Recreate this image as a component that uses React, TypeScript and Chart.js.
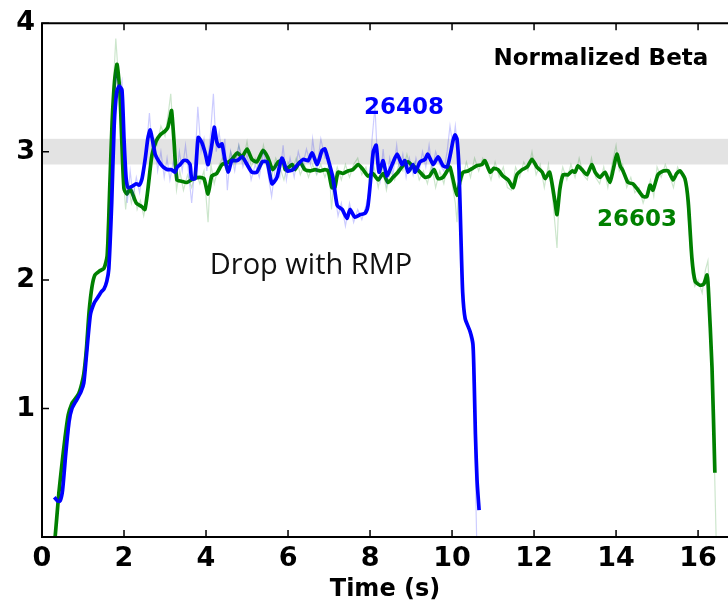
import React, { useEffect, useRef } from "react";
import { Chart, registerables } from "chart.js";

Chart.register(...registerables);

// ---- data: [time (s), normalized beta] ----
const blueSmooth: number[][] = [
  [0.30,0.31],[0.38,0.28],[0.44,0.28],[0.50,0.36],[0.58,0.65],[0.66,0.90],[0.73,1.00],[0.85,1.07],[0.95,1.13],[1.02,1.20],
  [1.08,1.40],[1.18,1.73],[1.27,1.82],[1.35,1.86],[1.45,1.91],[1.51,1.93],[1.58,1.99],[1.63,2.09],[1.70,2.60],[1.76,3.20],
  [1.82,3.46],[1.88,3.51],[1.95,3.48],[2.00,3.10],[2.05,2.80],[2.10,2.72],[2.20,2.73],[2.30,2.75],[2.37,2.74],[2.44,2.79],
  [2.52,2.95],[2.58,3.10],[2.64,3.17],[2.70,3.08],[2.76,2.98],[2.86,2.92],[2.96,2.88],[3.06,2.86],[3.16,2.86],[3.24,2.84],
  [3.30,2.88],[3.37,2.90],[3.45,2.93],[3.53,2.93],[3.61,2.90],[3.65,2.79],[3.73,2.79],[3.81,3.11],[3.90,3.07],[3.98,2.99],
  [4.05,2.90],[4.14,3.05],[4.20,3.19],[4.26,3.08],[4.32,3.04],[4.39,3.06],[4.46,2.94],[4.54,2.84],[4.63,2.93],[4.76,2.93],
  [4.88,2.96],[5.00,2.90],[5.12,2.84],[5.24,2.84],[5.37,2.92],[5.49,2.92],[5.61,2.75],[5.73,2.80],[5.85,2.95],[5.98,2.85],
  [6.12,2.86],[6.24,2.90],[6.37,2.94],[6.49,2.93],[6.59,2.99],[6.71,2.90],[6.83,3.01],[6.90,3.02],[7.02,2.89],[7.10,2.79],
  [7.20,2.58],[7.32,2.55],[7.44,2.48],[7.51,2.55],[7.63,2.49],[7.76,2.51],[7.88,2.52],[7.95,2.58],[8.02,2.80],[8.08,3.00],
  [8.15,3.05],[8.22,2.84],[8.32,2.93],[8.41,2.81],[8.54,2.90],[8.66,2.98],[8.78,2.90],[8.85,2.93],[8.93,2.84],[9.05,2.90],
  [9.10,2.84],[9.22,2.92],[9.34,2.94],[9.41,2.98],[9.54,2.90],[9.66,2.96],[9.78,2.89],[9.88,2.88],[9.96,2.98],[10.02,3.08],
  [10.07,3.13],[10.12,3.10],[10.17,2.86],[10.22,2.30],[10.26,1.90],[10.32,1.70],[10.44,1.60],[10.51,1.50],[10.54,1.21],
  [10.57,0.80],[10.61,0.44],[10.66,0.21],
];

const greenSmooth: number[][] = [
  [0.32,0.00],[0.36,0.15],[0.41,0.34],[0.48,0.55],[0.56,0.77],[0.64,0.95],[0.73,1.04],[0.82,1.08],[0.90,1.12],[0.96,1.18],
  [1.02,1.27],[1.08,1.45],[1.15,1.76],[1.22,1.95],[1.29,2.04],[1.40,2.07],[1.51,2.09],[1.59,2.19],[1.65,2.70],[1.71,3.23],
  [1.77,3.55],[1.83,3.68],[1.90,3.46],[1.95,3.05],[2.00,2.71],[2.07,2.67],[2.15,2.71],[2.22,2.66],[2.30,2.60],[2.44,2.57],
  [2.51,2.55],[2.58,2.70],[2.68,2.97],[2.78,3.08],[2.88,3.13],[3.00,3.16],[3.07,3.19],[3.12,3.26],[3.16,3.32],[3.22,3.08],
  [3.29,2.78],[3.40,2.77],[3.53,2.76],[3.70,2.79],[3.85,2.80],[3.95,2.79],[4.05,2.67],[4.14,2.81],[4.26,2.83],[4.39,2.90],
  [4.50,2.91],[4.63,2.94],[4.76,2.99],[4.88,2.96],[5.00,3.02],[5.12,2.94],[5.24,2.92],[5.39,3.01],[5.50,2.96],[5.63,2.86],
  [5.76,2.92],[5.88,2.93],[5.93,2.86],[6.02,2.88],[6.10,2.90],[6.17,2.86],[6.29,2.92],[6.41,2.86],[6.54,2.85],[6.66,2.86],
  [6.78,2.85],[6.90,2.86],[6.98,2.85],[7.07,2.72],[7.14,2.72],[7.22,2.84],[7.34,2.83],[7.46,2.85],[7.58,2.86],[7.71,2.90],
  [7.83,2.86],[7.95,2.81],[8.07,2.83],[8.20,2.78],[8.32,2.83],[8.44,2.76],[8.56,2.80],[8.68,2.84],[8.80,2.89],[8.93,2.92],
  [9.03,2.89],[9.10,2.88],[9.22,2.84],[9.34,2.80],[9.45,2.81],[9.56,2.86],[9.66,2.79],[9.78,2.80],[9.90,2.86],[9.95,2.88],
  [10.02,2.79],[10.12,2.66],[10.20,2.78],[10.27,2.84],[10.39,2.85],[10.50,2.87],[10.60,2.89],[10.73,2.90],[10.80,2.93],
  [10.93,2.84],[11.02,2.87],[11.12,2.86],[11.24,2.81],[11.37,2.78],[11.49,2.72],[11.58,2.82],[11.71,2.86],[11.83,2.88],
  [11.95,2.94],[12.07,2.88],[12.20,2.84],[12.27,2.79],[12.38,2.84],[12.51,2.61],[12.56,2.51],[12.63,2.71],[12.71,2.82],
  [12.83,2.82],[12.93,2.85],[13.00,2.84],[13.07,2.89],[13.17,2.86],[13.29,2.82],[13.41,2.90],[13.49,2.84],[13.61,2.80],
  [13.73,2.84],[13.85,2.76],[13.93,2.86],[14.02,2.98],[14.10,2.89],[14.17,2.85],[14.29,2.76],[14.41,2.75],[14.54,2.70],
  [14.66,2.65],[14.75,2.65],[14.83,2.74],[14.90,2.70],[15.02,2.82],[15.15,2.85],[15.27,2.85],[15.39,2.78],[15.48,2.83],
  [15.56,2.85],[15.68,2.79],[15.76,2.61],[15.85,2.17],[15.93,1.99],[16.05,1.96],[16.14,1.97],[16.22,2.04],[16.25,1.94],
  [16.34,1.32],[16.41,0.50],
];

const blueRaw: number[][] = [
  [0.30,0.30],[0.45,0.27],[0.6,0.7],[0.75,1.02],[0.9,1.1],[1.05,1.3],[1.2,1.78],[1.35,1.88],[1.5,1.92],[1.62,2.1],
  [1.72,2.9],[1.8,3.6],[1.88,3.45],[1.95,3.55],[2.02,2.95],[2.08,2.6],[2.15,2.85],[2.22,2.65],[2.3,2.8],[2.38,2.68],
  [2.46,2.85],[2.55,3.05],[2.62,3.3],[2.68,3.05],[2.75,3.1],[2.82,2.85],[2.9,3.0],[2.98,2.8],[3.05,2.95],[3.12,2.78],
  [3.2,2.92],[3.28,2.8],[3.35,3.0],[3.42,2.85],[3.5,3.05],[3.58,2.82],[3.65,2.6],[3.72,2.85],[3.8,3.35],[3.88,3.0],
  [3.95,3.1],[4.02,2.85],[4.1,3.1],[4.18,3.45],[4.25,3.0],[4.32,3.15],[4.4,2.95],[4.46,3.1],[4.52,2.7],[4.6,3.0],
  [4.7,2.85],[4.8,3.05],[4.9,2.88],[5.0,2.98],[5.1,2.78],[5.2,2.9],[5.3,2.8],[5.4,3.0],[5.5,2.85],[5.6,2.65],
  [5.7,2.9],[5.8,2.8],[5.88,3.05],[5.96,2.78],[6.05,2.95],[6.15,2.8],[6.25,3.0],[6.35,2.88],[6.45,3.02],[6.55,2.9],
  [6.6,3.1],[6.7,2.85],[6.8,3.1],[6.9,2.95],[7.0,2.95],[7.08,2.7],[7.15,2.65],[7.22,2.5],[7.3,2.6],[7.4,2.42],
  [7.5,2.6],[7.6,2.45],[7.7,2.55],[7.8,2.47],[7.9,2.58],[7.98,2.7],[8.05,3.1],[8.12,3.35],[8.18,2.95],[8.25,2.78],
  [8.32,3.02],[8.4,2.75],[8.48,2.95],[8.56,2.82],[8.65,3.05],[8.72,2.85],[8.8,2.98],[8.88,2.8],[8.96,2.95],[9.05,2.82],
  [9.12,2.95],[9.2,2.85],[9.28,3.0],[9.36,2.88],[9.44,3.05],[9.52,2.85],[9.6,3.0],[9.7,2.9],[9.8,2.85],[9.88,3.0],
  [9.95,3.2],[10.02,3.05],[10.08,3.2],[10.14,3.0],[10.18,2.6],[10.23,2.1],[10.3,1.75],[10.4,1.62],[10.5,1.45],
  [10.55,0.9],[10.58,0.3],[10.6,0.0],
];

const greenRaw: number[][] = [
  [0.33,0.0],[0.42,0.35],[0.55,0.78],[0.7,1.05],[0.85,1.1],[1.0,1.25],[1.12,1.7],[1.25,2.02],[1.4,2.08],[1.55,2.12],
  [1.65,2.8],[1.72,3.4],[1.8,3.88],[1.86,3.6],[1.92,3.3],[1.98,2.8],[2.04,2.55],[2.1,2.75],[2.18,2.6],[2.25,2.7],
  [2.32,2.55],[2.4,2.62],[2.48,2.5],[2.56,2.62],[2.64,2.95],[2.72,3.1],[2.8,3.05],[2.9,3.2],[3.0,3.12],[3.08,3.3],
  [3.14,3.45],[3.2,3.15],[3.28,2.7],[3.36,2.85],[3.45,2.7],[3.55,2.82],[3.65,2.72],[3.75,2.85],[3.85,2.75],[3.95,2.85],
  [4.05,2.45],[4.12,2.9],[4.2,2.75],[4.3,2.88],[4.4,2.95],[4.5,2.85],[4.6,3.0],[4.7,2.9],[4.8,3.05],[4.9,2.92],
  [5.0,3.08],[5.1,2.88],[5.2,2.95],[5.3,2.85],[5.4,3.05],[5.5,2.9],[5.6,2.8],[5.7,2.95],[5.8,2.88],[5.9,2.78],
  [6.0,2.92],[6.1,2.85],[6.2,2.95],[6.3,2.82],[6.4,2.9],[6.5,2.8],[6.6,2.9],[6.7,2.82],[6.8,2.9],[6.9,2.8],
  [7.0,2.9],[7.06,2.55],[7.12,2.78],[7.2,2.88],[7.3,2.78],[7.4,2.9],[7.5,2.8],[7.6,2.9],[7.7,2.95],[7.8,2.82],
  [7.9,2.88],[8.0,2.75],[8.1,2.88],[8.2,2.72],[8.3,2.88],[8.4,2.7],[8.5,2.85],[8.6,2.78],[8.7,2.9],[8.8,2.85],
  [8.9,2.98],[9.0,2.85],[9.1,2.92],[9.2,2.78],[9.3,2.85],[9.4,2.75],[9.5,2.9],[9.6,2.72],[9.7,2.85],[9.8,2.75],
  [9.9,2.92],[10.0,2.75],[10.08,2.6],[10.12,2.45],[10.18,2.85],[10.25,2.78],[10.35,2.92],[10.45,2.8],[10.55,2.95],
  [10.65,2.85],[10.75,2.95],[10.85,2.88],[10.95,2.78],[11.05,2.92],[11.15,2.8],[11.25,2.88],[11.35,2.72],[11.45,2.7],
  [11.55,2.88],[11.65,2.8],[11.75,2.92],[11.85,2.85],[11.95,3.0],[12.05,2.82],[12.15,2.9],[12.25,2.72],[12.35,2.9],
  [12.45,2.65],[12.52,2.4],[12.56,2.25],[12.62,2.75],[12.7,2.88],[12.8,2.78],[12.9,2.9],[13.0,2.8],[13.1,2.95],
  [13.2,2.82],[13.3,2.78],[13.4,2.95],[13.5,2.8],[13.6,2.75],[13.7,2.88],[13.8,2.72],[13.9,2.9],[14.0,3.05],
  [14.08,2.85],[14.16,2.9],[14.26,2.72],[14.36,2.8],[14.46,2.68],[14.56,2.72],[14.66,2.6],[14.76,2.7],[14.84,2.78],
  [14.92,2.65],[15.0,2.88],[15.1,2.8],[15.2,2.9],[15.3,2.82],[15.4,2.72],[15.5,2.88],[15.6,2.82],[15.7,2.75],
  [15.78,2.4],[15.85,2.05],[15.92,1.95],[16.0,2.0],[16.1,1.9],[16.18,2.08],[16.24,2.15],[16.28,1.9],[16.36,1.1],[16.44,0.0],
];

const xTicks = [0, 2, 4, 6, 8, 10, 12, 14, 16];
const yTicks = [1, 2, 3, 4];
const bandRange = [2.9, 3.1];
const xLimits = [0, 16.73];
const yLimits = [0, 4];

const toPts = (arr: number[][]) => arr.map(([x, y]) => ({ x, y }));

const overlayPlugin = {
  id: "overlay",
  beforeDatasetsDraw(chart: any) {
    const { ctx, chartArea, scales } = chart;
    const y = scales.y;
    const yTop = y.getPixelForValue(bandRange[1]);
    const yBot = y.getPixelForValue(bandRange[0]);
    ctx.save();
    ctx.fillStyle = "#e3e3e3";
    ctx.fillRect(chartArea.left, yTop, chartArea.right - chartArea.left, yBot - yTop);
    ctx.restore();
  },
  afterDraw(chart: any) {
    const { ctx, chartArea, scales } = chart;
    const x = scales.x;
    const y = scales.y;
    const L = chartArea.left, R = chartArea.right, T = chartArea.top, B = chartArea.bottom;
    ctx.save();
    ctx.strokeStyle = "#000";
    ctx.lineWidth = 2;
    ctx.beginPath();
    ctx.moveTo(L, T); ctx.lineTo(L, B);
    ctx.moveTo(L - 1, T); ctx.lineTo(R, T);
    ctx.moveTo(L - 1, B); ctx.lineTo(R, B);
    ctx.stroke();
    ctx.lineWidth = 1.5;
    ctx.beginPath();
    xTicks.forEach((v) => {
      const px = x.getPixelForValue(v);
      ctx.moveTo(px, B); ctx.lineTo(px, B - 7);
      ctx.moveTo(px, T); ctx.lineTo(px, T + 7);
    });
    yTicks.forEach((v) => {
      const py = y.getPixelForValue(v);
      ctx.moveTo(L, py); ctx.lineTo(L + 7, py);
    });
    ctx.stroke();

    const text = (s: string, tx: number, ty: number, font: string, color: string) => {
      ctx.font = font;
      ctx.fillStyle = color;
      ctx.textAlign = "center";
      ctx.textBaseline = "alphabetic";
      ctx.fillText(s, x.getPixelForValue(tx), y.getPixelForValue(ty));
    };
    text("Normalized Beta", 13.63, 3.675, "bold 23px 'DejaVu Sans'", "#000");
    text("26408", 8.83, 3.296, "bold 23px 'DejaVu Sans'", "#0000ff");
    text("26603", 14.51, 2.42, "bold 23px 'DejaVu Sans'", "#008000");
    text("Drop with RMP", 6.56, 2.05, "29px 'Open Sans'", "#111");
    ctx.restore();
  },
};

export default function App() {
  const ref = useRef<HTMLCanvasElement>(null);
  useEffect(() => {
    if (!ref.current) return;
    const tickFont = { family: "'DejaVu Sans'", size: 27, weight: "bold" as const };
    const chart = new Chart(ref.current, {
      type: "scatter",
      data: {
        datasets: [
          { data: toPts(blueRaw), showLine: true, borderColor: "rgba(0,0,255,0.2)", borderWidth: 1.2, pointRadius: 0, tension: 0 },
          { data: toPts(greenRaw), showLine: true, borderColor: "rgba(0,128,0,0.2)", borderWidth: 1.2, pointRadius: 0, tension: 0 },
          { data: toPts(blueSmooth), showLine: true, borderColor: "#0000ff", borderWidth: 3.7, pointRadius: 0, tension: 0.2, borderCapStyle: "butt" },
          { data: toPts(greenSmooth), showLine: true, borderColor: "#008000", borderWidth: 3.7, pointRadius: 0, tension: 0.2, borderCapStyle: "butt" },
        ],
      },
      options: {
        responsive: false,
        animation: false,
        events: [],
        layout: { padding: { top: 20, right: 0, left: 0, bottom: 0 } },
        plugins: { legend: { display: false }, tooltip: { enabled: false }, title: { display: false } },
        scales: {
          x: {
            type: "linear",
            min: xLimits[0],
            max: xLimits[1],
            grid: { display: false, drawTicks: false },
            border: { display: false },
            ticks: { stepSize: 2, includeBounds: false, color: "#000", font: tickFont, padding: 6, maxRotation: 0 },
            title: { display: true, text: "Time (s)", color: "#000", font: { family: "'DejaVu Sans'", size: 24, weight: "bold" }, padding: { top: 0, bottom: -2 } },
            afterFit: (s: any) => { s.height = 65; },
          },
          y: {
            type: "linear",
            min: yLimits[0],
            max: yLimits[1],
            grid: { display: false, drawTicks: false },
            border: { display: false },
            ticks: {
              stepSize: 1,
              includeBounds: false,
              color: "#000",
              font: tickFont,
              padding: 7,
              callback: (v: any) => (v === 0 ? "" : String(v)),
            },
            afterFit: (s: any) => { s.width = 42; },
          },
        },
      },
      plugins: [overlayPlugin],
    });
    return () => chart.destroy();
  }, []);
  return (
    <div style={{ position: "absolute", left: 0, top: 0, width: 728, height: 602, background: "#fff" }}>
      <canvas ref={ref} width={728} height={602} style={{ display: "block" }} />
    </div>
  );
}
